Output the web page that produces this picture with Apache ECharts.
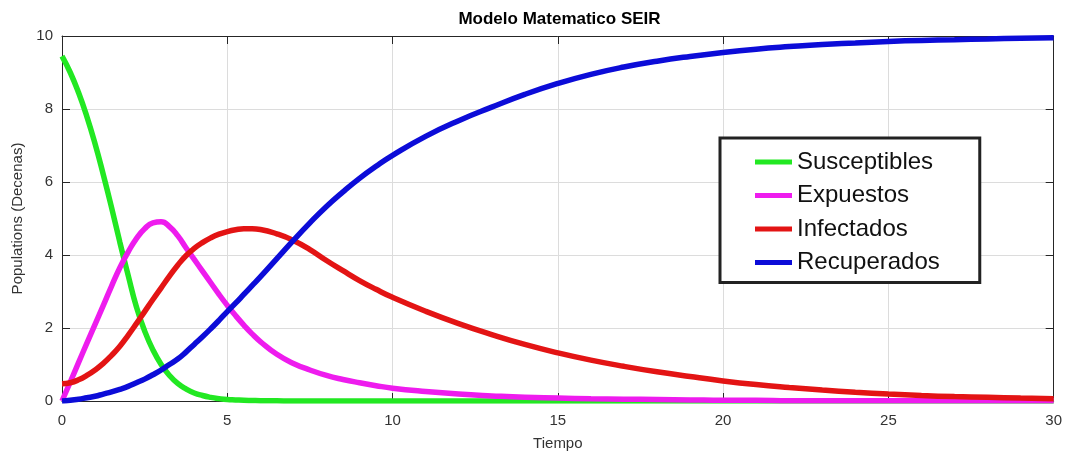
<!DOCTYPE html>
<html>
<head>
<meta charset="utf-8">
<script src="https://cdn.jsdelivr.net/npm/echarts@6/dist/echarts.min.js"></script>
<style>html,body{margin:0;padding:0;background:#fff;}#c{width:1065px;height:456px;}</style>
</head>
<body>
<div id="c"></div>
<script>
const times = [0,0.25,0.5,0.75,1,1.25,1.5,1.75,2,2.25,2.5,2.75,3,3.25,3.5,3.75,4,4.25,4.5,4.75,5,5.25,5.5,5.75,6,
  6.5,7,7.5,8,8.5,9,9.5,10,
  11,12,13,14,15,16,17,18,19,20,21,22,23,24,25,26,27,28,29,30];
const susceptibles = [9.45,9.0,8.45,7.8,7.05,6.2,5.3,4.35,3.45,2.58,1.92,1.4,1.0,0.7,0.48,0.33,0.22,0.15,0.1,0.065,0.04,0.03,0.02,0.015,0.01,
  0.005,0,0,0,0,0,0,0,
  0,0,0,0,0,0,0,0,0,0,0,0,0,0,0,0,0,0,0,0];
const expuestos = [0,0.52,1.05,1.58,2.1,2.62,3.15,3.65,4.08,4.45,4.72,4.88,4.91,4.78,4.53,4.2,3.88,3.56,3.24,2.92,2.62,2.34,2.08,1.84,1.63,
  1.28,1.03,0.85,0.7,0.59,0.5,0.42,0.35,
  0.26,0.19,0.14,0.1,0.08,0.06,0.05,0.04,0.03,0.02,0.02,0.01,0.01,0.01,0.01,0.01,0.01,0.01,0.01,0.01];
const infectados = [0.47,0.5,0.58,0.7,0.85,1.03,1.25,1.5,1.8,2.12,2.45,2.78,3.1,3.42,3.72,3.98,4.18,4.34,4.47,4.57,4.64,4.69,4.72,4.72,4.7,
  4.58,4.4,4.15,3.85,3.57,3.3,3.06,2.84,
  2.46,2.12,1.82,1.55,1.32,1.12,0.95,0.8,0.67,0.55,0.45,0.37,0.3,0.24,0.19,0.15,0.12,0.1,0.08,0.065];
const recuperados = [0,0.02,0.05,0.09,0.13,0.19,0.25,0.32,0.4,0.5,0.6,0.72,0.85,1.0,1.15,1.34,1.55,1.76,1.98,2.21,2.45,2.68,2.92,3.16,3.4,
  3.9,4.4,4.88,5.33,5.73,6.1,6.43,6.73,
  7.25,7.68,8.05,8.4,8.7,8.95,9.15,9.31,9.44,9.55,9.64,9.71,9.77,9.81,9.85,9.88,9.9,9.92,9.94,9.95];
const seriesNames = ['Susceptibles','Expuestos','Infectados','Recuperados'];
const seriesColors = ['#22e822','#ee1cee','#e31414','#0c0cd8'];
const xTicks = [0,5,10,15,20,25,30];
const yTicks = [0,2,4,6,8,10];

const pairs = arr => times.map((t,i) => [t, arr[i]]);
const allData = [susceptibles, expuestos, infectados, recuperados];

const FONT = "'Liberation Sans', Arial, Helvetica, sans-serif";
const AX = '#262626';

const chart = echarts.init(document.getElementById('c'), null, {renderer:'canvas'});
chart.setOption({
  animation: false,
  backgroundColor: '#fff',
  title: {
    text: 'Modelo Matematico SEIR',
    left: 559.5, top: 11, padding: 0, textAlign: 'center',
    textStyle: {fontFamily: FONT, fontWeight: 'bold', fontSize: 17, color: '#000'}
  },
  grid: {left: 62, right: 8, top: 36, bottom: 52, containLabel: false},
  legend: {
    orient: 'vertical', left: 720, top: 138,
    padding: [12, 40, 8, 35],
    itemGap: 9.5, itemWidth: 37, itemHeight: 5, icon: 'rect',
    backgroundColor: '#fff', borderColor: '#222', borderWidth: 3,
    textStyle: {fontFamily: FONT, fontSize: 24, lineHeight: 24, color: '#111'},
    data: seriesNames
  },
  xAxis: [{
    type: 'value', min: xTicks[0], max: xTicks[xTicks.length-1], interval: 5,
    name: 'Tiempo', nameLocation: 'middle', nameGap: 35,
    nameTextStyle: {fontFamily: FONT, fontSize: 15, color: '#333'},
    axisLine: {show: true, lineStyle: {color: AX, width: 1}},
    axisTick: {show: true, inside: true, length: 8, lineStyle: {color: AX}},
    axisLabel: {fontFamily: FONT, fontSize: 15, color: '#333', margin: 12},
    splitLine: {show: true, lineStyle: {color: '#dcdcdc', width: 1}}
  }, {
    type: 'value', position: 'top', min: 0, max: 30, interval: 5,
    axisLine: {show: true, onZero: false, lineStyle: {color: AX, width: 1}},
    axisTick: {show: true, inside: true, length: 8, lineStyle: {color: AX}},
    axisLabel: {show: false}, splitLine: {show: false}
  }],
  yAxis: [{
    type: 'value', min: yTicks[0], max: yTicks[yTicks.length-1], interval: 2,
    name: 'Populations (Decenas)', nameLocation: 'middle', nameGap: 33,
    nameTextStyle: {fontFamily: FONT, fontSize: 15, color: '#333'},
    axisLine: {show: true, lineStyle: {color: AX, width: 1}},
    axisTick: {show: true, inside: true, length: 8, lineStyle: {color: AX}},
    axisLabel: {fontFamily: FONT, fontSize: 15, color: '#333', margin: 9},
    splitLine: {show: true, lineStyle: {color: '#dcdcdc', width: 1}}
  }, {
    type: 'value', position: 'right', min: 0, max: 10, interval: 2,
    axisLine: {show: true, onZero: false, lineStyle: {color: AX, width: 1}},
    axisTick: {show: true, inside: true, length: 8, lineStyle: {color: AX}},
    axisLabel: {show: false}, splitLine: {show: false}
  }],
  series: seriesNames.map((n, i) => ({
    name: n, type: 'line', data: pairs(allData[i]),
    xAxisIndex: 0, yAxisIndex: 0,
    smooth: 0.5, showSymbol: false, symbol: 'none',
    lineStyle: {color: seriesColors[i], width: 5.5},
    itemStyle: {color: seriesColors[i]},
    z: 2 + i
  }))
});
</script>
</body>
</html>
